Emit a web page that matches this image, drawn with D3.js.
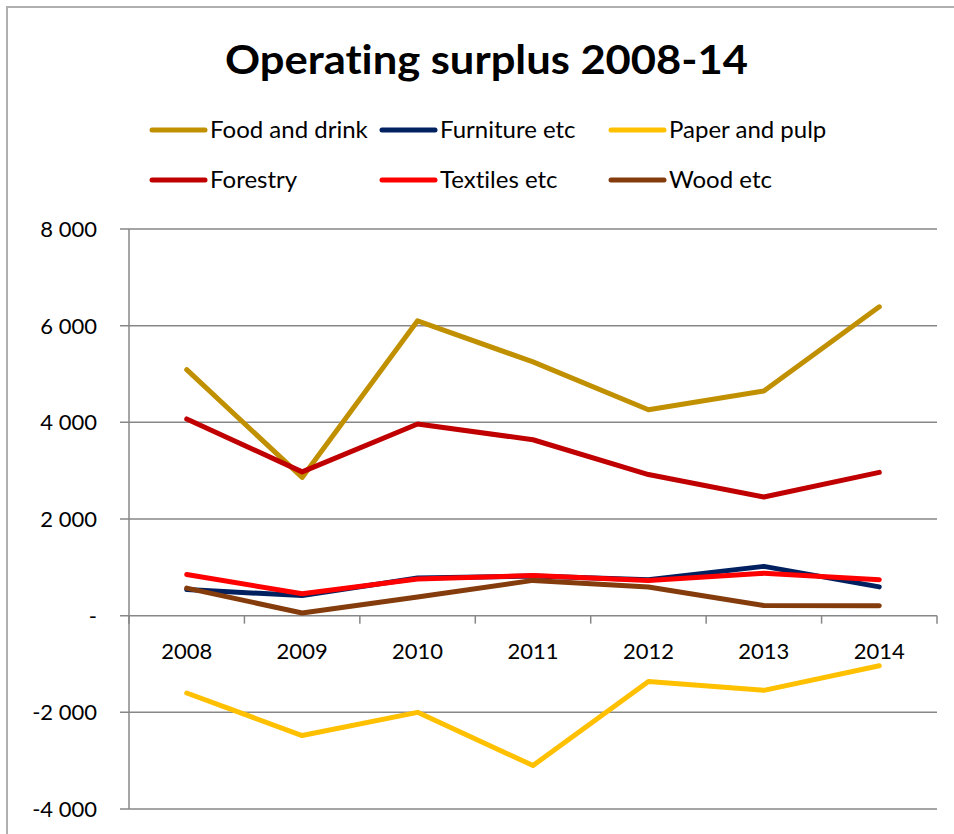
<!DOCTYPE html>
<html>
<head>
<meta charset="utf-8">
<script src="https://cdn.jsdelivr.net/npm/d3@7/dist/d3.min.js"></script>
<style>
  html, body { margin: 0; padding: 0; background: #fff; }
  svg { display: block; }
  text { font-family: Lato, "Open Sans", sans-serif; fill: #000; font-variant-ligatures: none; font-feature-settings: "liga" 0, "clig" 0, "dlig" 0; }
</style>
</head>
<body>
<svg id="chart" width="954" height="834"></svg>
<script>
// Operating surplus by industry, 2008-2014
const years = ["2008", "2009", "2010", "2011", "2012", "2013", "2014"];
const seriesNames = ["Food and drink", "Furniture etc", "Paper and pulp", "Forestry", "Textiles etc", "Wood etc"];
const foodAndDrink = [5090, 2860, 6100, 5250, 4260, 4650, 6390];
const furniture    = [540, 415, 780, 820, 745, 1020, 595];
const paperAndPulp = [-1600, -2480, -2000, -3100, -1360, -1545, -1035];
const forestry     = [4070, 2975, 3965, 3640, 2920, 2455, 2965];
const textiles     = [850, 455, 760, 830, 730, 880, 745];
const wood         = [570, 55, 385, 730, 595, 210, 205];
const seriesValues = [foodAndDrink, furniture, paperAndPulp, forestry, textiles, wood];
const seriesColors = ["#C09000", "#002060", "#FFC000", "#C00000", "#FF0000", "#843C0C"];
const yTicks = [-4000, -2000, 0, 2000, 4000, 6000, 8000];

const svg = d3.select("#chart");

// outer chart frame (top and left edges visible)
svg.append("path")
  .attr("d", "M7,834 V7 H954")
  .attr("fill", "none")
  .attr("stroke", "#b0b0b0")
  .attr("stroke-width", 2);

const plot = { left: 129, right: 937, top: 229, bottom: 809 };

const x = d3.scaleBand().domain(years).range([plot.left, plot.right]).padding(0);
const xc = d => x(d) + x.bandwidth() / 2;
const y = d3.scaleLinear().domain([-4000, 8000]).range([plot.bottom, plot.top]);

const locale = d3.formatLocale({ decimal: ",", thousands: " ", grouping: [3], currency: ["", ""], minus: "-" });
const fmt = locale.format(",d");
const tickLabel = v => v === 0 ? "-" : fmt(v);

// horizontal gridlines
svg.append("g")
  .selectAll("line")
  .data(yTicks)
  .join("line")
  .attr("x1", plot.left - 9)
  .attr("x2", plot.right)
  .attr("y1", d => y(d))
  .attr("y2", d => y(d))
  .attr("stroke", "#878787")
  .attr("stroke-width", 1.5);

// y axis line
svg.append("line")
  .attr("x1", plot.left).attr("x2", plot.left)
  .attr("y1", plot.top).attr("y2", plot.bottom)
  .attr("stroke", "#878787").attr("stroke-width", 1.5);

// x axis tick marks at category boundaries
const boundaries = years.map(d => x(d)).concat([plot.right]);
svg.append("g")
  .selectAll("line")
  .data(boundaries)
  .join("line")
  .attr("x1", d => d).attr("x2", d => d)
  .attr("y1", y(0)).attr("y2", y(0) + 8)
  .attr("stroke", "#878787").attr("stroke-width", 1.5);

// y tick labels
svg.append("g")
  .selectAll("text")
  .data(yTicks)
  .join("text")
  .attr("x", 97)
  .attr("y", d => y(d) + 8)
  .attr("text-anchor", "end")
  .attr("font-size", 22)
  .text(tickLabel);

// x category labels
svg.append("g")
  .selectAll("text")
  .data(years)
  .join("text")
  .attr("x", d => xc(d))
  .attr("y", 659)
  .attr("text-anchor", "middle")
  .attr("font-size", 22)
  .text(d => d);

// series lines
const line = d3.line()
  .x((d, i) => xc(years[i]))
  .y(d => y(d));

svg.append("g")
  .selectAll("path")
  .data(seriesValues)
  .join("path")
  .attr("d", d => line(d))
  .attr("fill", "none")
  .attr("stroke", (d, i) => seriesColors[i])
  .attr("stroke-width", 5)
  .attr("stroke-linecap", "round")
  .attr("stroke-linejoin", "round");

// title
svg.append("text")
  .attr("x", 486.5)
  .attr("y", 74)
  .attr("text-anchor", "middle")
  .attr("font-size", 41)
  .attr("font-weight", "bold")
  .attr("textLength", 523)
  .attr("lengthAdjust", "spacingAndGlyphs")
  .text("Operating surplus 2008-14");

// legend: three columns, two rows
const legendCols = [150, 380, 609];
const legendRows = [130, 180];
const legend = svg.append("g")
  .selectAll("g")
  .data(seriesNames)
  .join("g")
  .attr("transform", (d, i) => `translate(${legendCols[i % 3]},${legendRows[Math.floor(i / 3)]})`);

legend.append("line")
  .attr("x1", 2).attr("x2", 55)
  .attr("y1", 0).attr("y2", 0)
  .attr("stroke", (d, i) => seriesColors[i])
  .attr("stroke-width", 5)
  .attr("stroke-linecap", "round");

legend.append("text")
  .attr("x", 60)
  .attr("y", 8)
  .attr("font-size", 24)
  .text(d => d);
</script>
</body>
</html>
